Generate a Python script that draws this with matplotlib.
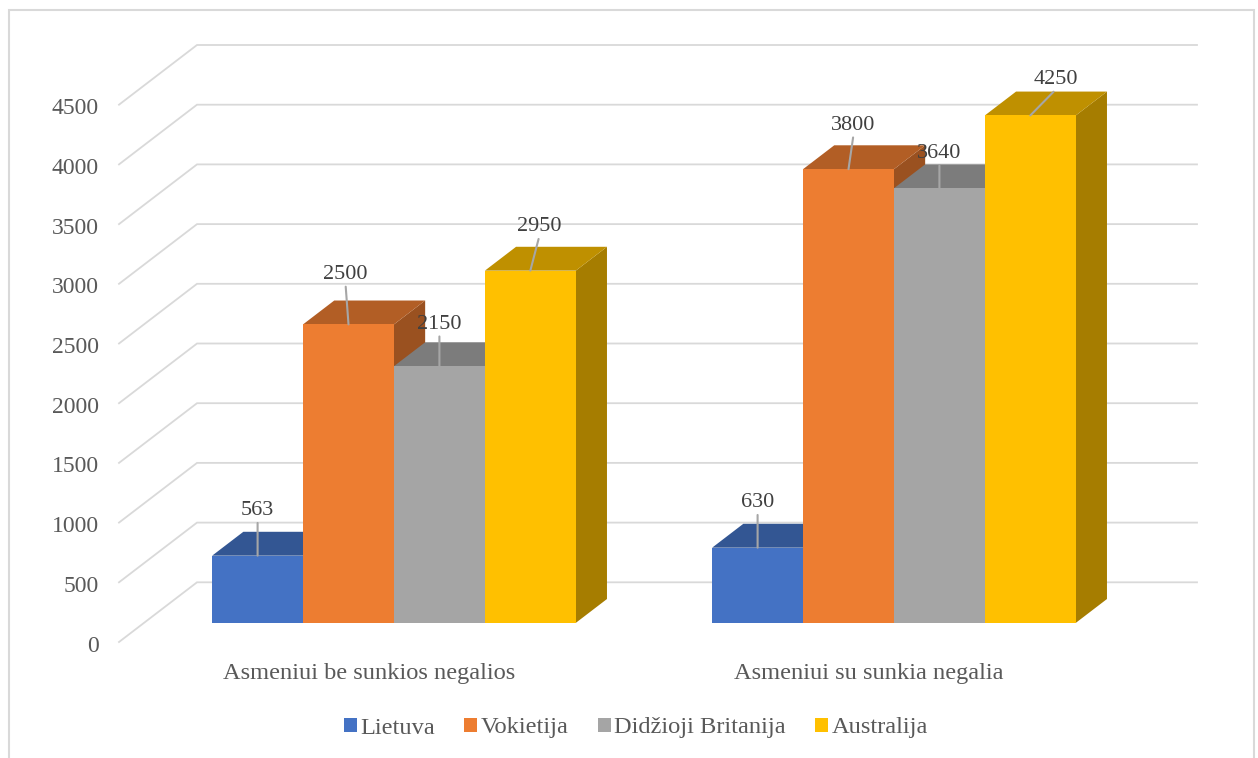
import matplotlib.pyplot as plt
from matplotlib.patches import Polygon, Patch, Rectangle
import numpy as np

plt.rcParams['font.family'] = ['Liberation Serif', 'DejaVu Serif']

# data
categories = ['Asmeniui be sunkios negalios', 'Asmeniui su sunkia negalia']
series = ['Lietuva', 'Vokietija', 'Didžioji Britanija', 'Australija']
lietuva = [563, 630]
vokietija = [2500, 3800]
britanija = [2150, 3640]
australija = [2950, 4250]
values = [lietuva, vokietija, britanija, australija]
yticks = [0, 500, 1000, 1500, 2000, 2500, 3000, 3500, 4000, 4500]

colors = ['#4472C4', '#ED7D31', '#A5A5A5', '#FFC000']

# label offsets in pixels (dx, dy) from bar front-top centre, per category
label_offsets = [[(0, 45), (-3, 50), (0, 42), (9, 44)],
                 [(0, 45), (5, 44), (0, 35), (26, 36)]]

# 3d look: oblique shift for full depth, in data units
DEPTH_X = 0.156
DEPTH_V = 500
D0, D1 = 0.32, 0.72          # bar depth range
SLOT = 1 / 5.5               # bar width (gap width 150%)
PX_PER_V = 0.1194
X0_PX, Y0_PX = 119, 642      # pixel position of (x=0, v=0, depth=0)
W, H = 1258, 758


def shade(c, f):
    r, g, b = [int(c[i:i + 2], 16) for i in (1, 3, 5)]
    return (r * f / 255, g * f / 255, b * f / 255)


def proj(x, v, d):
    return (x + d * DEPTH_X, v + d * DEPTH_V)


fig = plt.figure(figsize=(W / 100, H / 100), dpi=100)
ax = fig.add_axes([0, 0, 1, 1])
ax.set_xlim(-X0_PX / 500, (W - X0_PX) / 500)
ax.set_ylim(-(H - Y0_PX) / PX_PER_V, Y0_PX / PX_PER_V)
ax.set_axis_off()

grid_c = '#D9D9D9'
for v in yticks:
    a = proj(0, v, 0)
    b = proj(0, v, 1)
    c = proj(len(categories), v, 1)
    ax.plot([a[0], b[0], c[0]], [a[1], b[1], c[1]], color=grid_c, lw=1.3, zorder=1,
            solid_joinstyle='miter')
    ax.annotate(str(v), (0, v), xytext=(-20, -4), textcoords='offset pixels',
                ha='right', va='center', fontsize=17, color='#595959')

z = 2
for i, cat in enumerate(categories):
    for j, vals in enumerate(values):
        val = vals[i]
        x0 = i + (0.75 + j) * SLOT
        x1 = x0 + SLOT
        col = colors[j]
        side = [proj(x1, 0, D0), proj(x1, 0, D1), proj(x1, val, D1), proj(x1, val, D0)]
        top = [proj(x0, val, D0), proj(x0, val, D1), proj(x1, val, D1), proj(x1, val, D0)]
        ax.add_patch(Polygon(side, closed=True, facecolor=shade(col, 0.65),
                             edgecolor='none', zorder=z))
        ax.add_patch(Polygon(top, closed=True, facecolor=shade(col, 0.75),
                             edgecolor='none', zorder=z + 0.1))
        fx, fy = proj(x0, 0, D0)
        ax.bar(fx, val, width=SLOT, bottom=fy, align='edge', color=col,
               edgecolor='none', zorder=z + 0.2)
        z += 1

        cx, cy = proj(x0 + SLOT / 2, val, D0)
        ox, oy = label_offsets[i][j]
        ax.annotate(str(val), (cx, cy), xytext=(ox, oy), textcoords='offset pixels',
                    ha='center', va='center', fontsize=16, color='#404040', zorder=50,
                    arrowprops=dict(arrowstyle='-', color='#A6A6A6', lw=1.5,
                                    shrinkA=0, shrinkB=0, relpos=(0.5, 0)))

    ax.annotate(cat, (i + 0.5, 0), xytext=(0, -31), textcoords='offset pixels',
                ha='center', va='center', fontsize=17.6, color='#595959')

handles = [Patch(facecolor=c, edgecolor='none') for c in colors]
fig.legend(handles, series, loc='center', bbox_to_anchor=(636 / W, 1 - 728 / H),
           ncol=4, frameon=False, fontsize=17.6, labelcolor='#595959',
           handlelength=0.52, handleheight=0.52, handletextpad=0.15,
           columnspacing=1.2)

fig.patches.append(Rectangle((9 / W, -0.02), (1254 - 9) / W, 1.02 - 10 / H,
                             transform=fig.transFigure, fill=False,
                             edgecolor='#D9D9D9', lw=1.5))

fig.savefig('out.png', dpi=100)
